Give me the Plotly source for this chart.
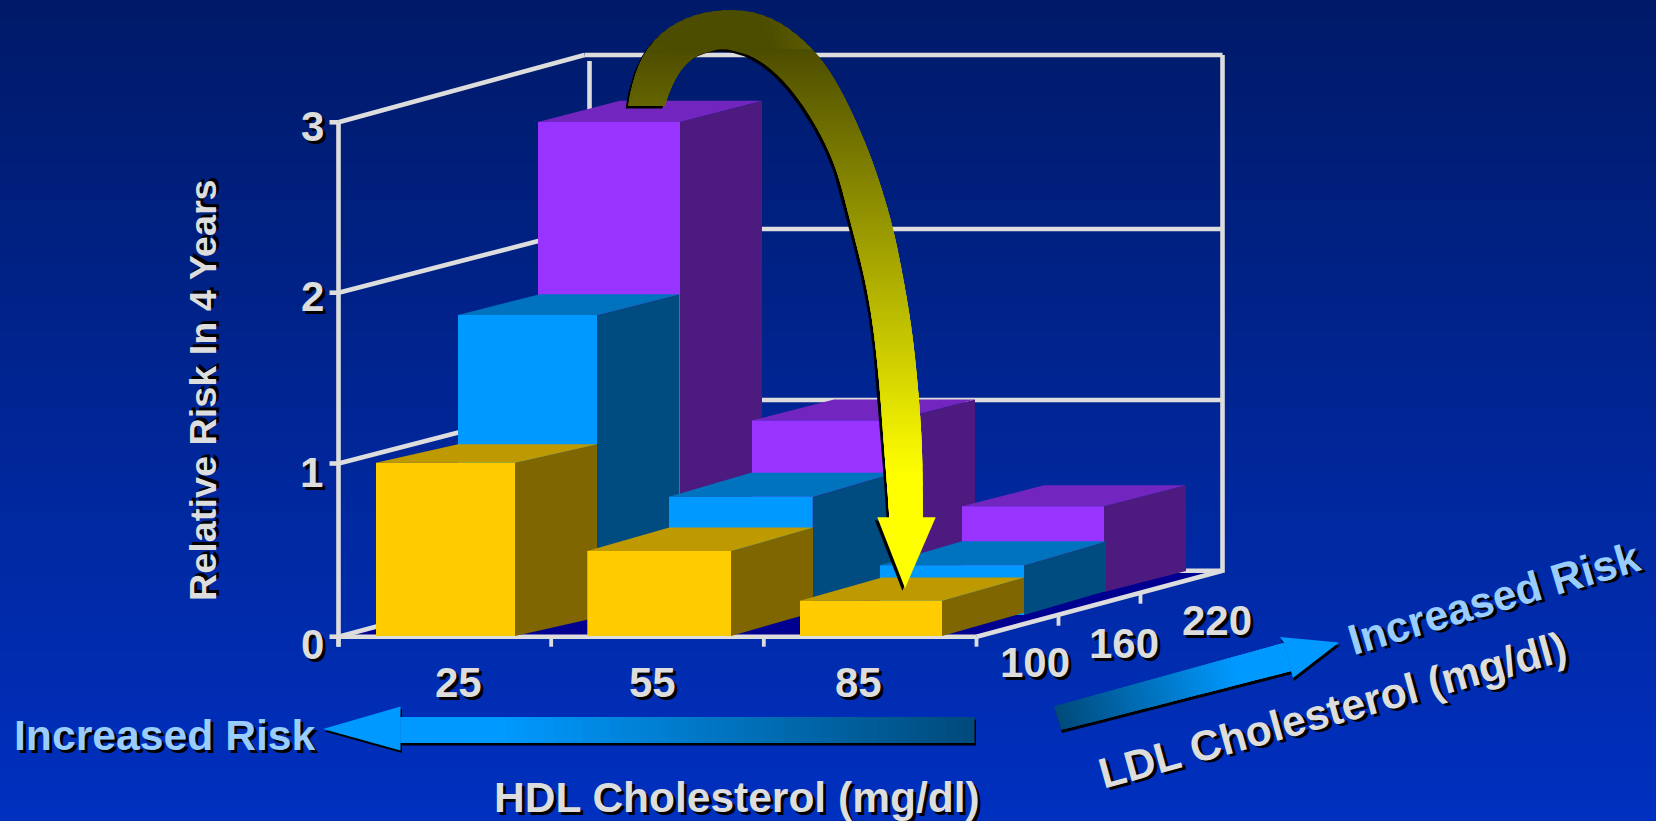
import plotly.graph_objects as go

# ---------- data ----------
hdl_labels = ["25", "55", "85"]
ldl_labels = ["100", "160", "220"]
risk_ticks = [0, 1, 2, 3]
risk_ldl100 = [1.01, 0.495, 0.205]
risk_ldl160 = [1.75, 0.69, 0.29]
risk_ldl220 = [2.74, 1.00, 0.50]
series = [risk_ldl100, risk_ldl160, risk_ldl220]

front_colors = ["#FFCC00", "#0099FF", "#9933FF"]
top_colors = ["#BF9900", "#0073BF", "#7326BF"]
side_colors = ["#806600", "#004C80", "#4D1A80"]
GRID = "#DDDDDD"
TXT = "#DDDDDD"
RISK_TXT = "#99CCFF"
FLOOR = "#000090"

W, H = 1656, 821

# ---------- oblique projection of the chart space ----------
X0, Y0 = 338.5, 636.5        # origin on the screen
UNIT = 171.5                 # pixels per unit of risk
BAR_LEFT = [[376.0, 587.3, 800.0], [458.0, 669.0, 880.0], [538.0, 752.0, 962.0]]
BAR_RIGHT = [[515.0, 731.0, 942.0], [597.0, 812.5, 1024.0], [680.0, 893.0, 1104.0]]
BAR_DEPTH_Y = [[18.5, 23.5, 23.3], [20.7, 24.0, 24.0], [21.3, 21.0, 21.0]]
BASE_Y = [636.0, 615.0, 592.0]
BAR_DEPTH_X = 82.0
FLOOR_W = 638.0
WALL_DX = 246.0
FRONT_GRID = [636.7, 463.5, 292.7, 122.3]   # how the wall's risk scale lands on the screen
BACK_GRID = [570.7, 400.0, 229.0, 55.0]
LW = 4.6


def bar_point(col, row, along, depth, z):
    left, right = BAR_LEFT[row][col], BAR_RIGHT[row][col]
    x = left + along * (right - left) + depth * BAR_DEPTH_X
    y = BASE_Y[row] - depth * BAR_DEPTH_Y[row][col] - z * UNIT
    return x, y


fig = go.Figure()

# ---------- gradient background ----------
rows = list(range(0, H + 1, 3))
fig.add_trace(go.Heatmap(
    x=[0, W], y=rows, z=[[r, r] for r in rows], zmin=0, zmax=H,
    colorscale=[[0, "rgb(0,26,104)"], [1, "rgb(0,48,192)"]],
    showscale=False, hoverinfo="skip"))


def poly(pts, color, lw=0.0):
    xs = [p[0] for p in pts] + [pts[0][0]]
    ys = [p[1] for p in pts] + [pts[0][1]]
    fig.add_trace(go.Scatter(
        x=xs, y=ys, mode="lines", fill="toself", fillcolor=color,
        line=dict(color=color, width=lw), hoverinfo="skip", showlegend=False))


def seg(a, b, w=LW, color=GRID):
    fig.add_trace(go.Scatter(
        x=[a[0], b[0]], y=[a[1], b[1]], mode="lines",
        line=dict(color=color, width=w), hoverinfo="skip", showlegend=False))


# ---------- floor and walls ----------
XF0, XF1 = X0, X0 + FLOOR_W
XB0, XB1 = X0 + WALL_DX, X0 + FLOOR_W + WALL_DX
poly([(XF0, FRONT_GRID[0]), (XF1, FRONT_GRID[0]), (XB1, BACK_GRID[0]), (XB0, BACK_GRID[0])], FLOOR)

for t in risk_ticks:
    seg((XF0, FRONT_GRID[t]), (XB0, BACK_GRID[t]))
    seg((XB0, BACK_GRID[t]), (XB1, BACK_GRID[t]))
    seg((XF0 - 9, FRONT_GRID[t]), (XF0, FRONT_GRID[t]))
seg((XF0, FRONT_GRID[0] + 10), (XF0, FRONT_GRID[3]))
seg((XB0 + 5, BACK_GRID[3] + 6), (XB0 + 5, BACK_GRID[0]))
seg((XB1, BACK_GRID[3]), (XB1, BACK_GRID[0] + 2))
seg((XF0, FRONT_GRID[0]), (XF1, FRONT_GRID[0]))
seg((XF1, FRONT_GRID[0]), (XB1, BACK_GRID[0]))
for i in range(4):
    x = XF0 + FLOOR_W * i / 3
    seg((x, FRONT_GRID[0]), (x, FRONT_GRID[0] + 10), 3.8)
for i in range(1, 3):
    x = XF1 + WALL_DX * i / 3
    y = FRONT_GRID[0] + (BACK_GRID[0] - FRONT_GRID[0]) * i / 3
    seg((x, y), (x, y + 11), 3.8)

# ---------- bars, painted back to front ----------
for row in [2, 1, 0]:
    for col, v in enumerate(series[row]):
        poly([bar_point(col, row, 1, 0, 0), bar_point(col, row, 1, 1, 0),
              bar_point(col, row, 1, 1, v), bar_point(col, row, 1, 0, v)], side_colors[row])
        poly([bar_point(col, row, 0, 0, v), bar_point(col, row, 1, 0, v),
              bar_point(col, row, 1, 1, v), bar_point(col, row, 0, 1, v)], top_colors[row])
        poly([bar_point(col, row, 0, 0, 0), bar_point(col, row, 1, 0, 0),
              bar_point(col, row, 1, 0, v), bar_point(col, row, 0, 0, v)], front_colors[row])


# ---------- gradient helpers ----------
def mix(c0, c1, t):
    t = max(0.0, min(1.0, t))
    return "rgb(%d,%d,%d)" % tuple(round(a + (b - a) * t) for a, b in zip(c0, c1))


def lerp(a, b, t):
    return a[0] + (b[0] - a[0]) * t, a[1] + (b[1] - a[1]) * t


def straight_arrow(tail_a, tail_b, neck_a, neck_b, head_a, head_b, tip, full_at, shadow, n=60):
    sh = [tail_a, neck_a, head_a, tip, head_b, neck_b, tail_b]
    poly([(p[0] + shadow[0], p[1] + shadow[1]) for p in sh], "#000000")
    dark, bright = (0, 74, 122), (0, 153, 255)
    for i in range(n):
        t0, t1 = i / n, min(1.0, (i + 3) / n)    # each slice runs under the next one
        poly([lerp(tail_a, neck_a, t0), lerp(tail_a, neck_a, t1),
              lerp(tail_b, neck_b, t1), lerp(tail_b, neck_b, t0)],
             mix(dark, bright, (i + 0.5) / n / full_at))
    poly([head_a, tip, head_b, neck_b, neck_a], "rgb(0,153,255)")


# HDL arrow, pointing left
straight_arrow((974.5, 717), (974.5, 743), (400.5, 717), (400.5, 743),
               (400.5, 706.5), (400.5, 750.5), (323, 729), 0.83, (1.5, 2.5))
# LDL arrow, pointing up and to the right
straight_arrow((1054, 706.5), (1061, 730), (1284, 643), (1291, 671),
               (1280, 637), (1293, 678), (1339, 642.5), 0.78, (1.0, 3.0))

# ---------- big curved arrow ----------
arc_outer = [(628.3, 106), (630, 90), (636.7, 65), (650, 41), (670, 24), (696.7, 12.5), (730, 8),
             (756.7, 10.7), (776.7, 18.5), (796.7, 33.3), (820, 55), (843.3, 93.3), (868, 148.3),
             (883, 192), (895, 235), (907.3, 300), (913.3, 340), (918.3, 390),
             (922.3, 446.7), (922.7, 521.7)]
arc_inner = [(665, 106), (670, 86.7), (681.7, 65), (700, 50), (726.7, 46.5), (750, 53),
             (773.3, 69), (796.7, 95), (820, 131.7), (836.7, 168.3), (852.3, 229), (863, 270),
             (870, 305), (875, 340), (880, 390), (884, 446.7), (888.3, 500), (889.5, 521.7)]
head = [(877.3, 517.3), (905, 588.3), (935.7, 517.3)]


def resample(pts, n):
    d = [0.0]
    for a, b in zip(pts, pts[1:]):
        d.append(d[-1] + ((a[0] - b[0]) ** 2 + (a[1] - b[1]) ** 2) ** 0.5)
    out, j = [], 0
    for i in range(n + 1):
        s = d[-1] * i / n
        while j < len(pts) - 2 and d[j + 1] < s:
            j += 1
        out.append(lerp(pts[j], pts[j + 1], (s - d[j]) / max(d[j + 1] - d[j], 1e-9)))
    return out


def soften(pts, reach=4, passes=2):
    # rounds off the corners of the hand-traced outline; the two ends stay where they are
    for _ in range(passes):
        out = []
        for i in range(len(pts)):
            r = min(reach, i, len(pts) - 1 - i)
            w = pts[i - r:i + r + 1]
            out.append((sum(p[0] for p in w) / len(w), sum(p[1] for p in w) / len(w)))
        pts = out
    return pts


N = 150
outer = soften(resample(arc_outer, N))
inner = soften(resample(arc_inner, N))
sil = outer + [head[2], head[1], head[0]] + inner[::-1]
poly([(p[0] - 2.6, p[1] + 2.4) for p in sil], "#000000")


def arc_color(y):
    return mix((77, 77, 0), (255, 255, 0), (y - 48) / 425)


# first a rough fill along the band ...
for i in range(0, N, 2):
    j = min(N, i + 3)
    poly([outer[i], outer[j], inner[j], inner[i]],
         arc_color((outer[i][1] + outer[j][1] + inner[i][1] + inner[j][1]) / 4))

# ... then level strips over it, so the colour only changes from top to bottom
band = outer + inner[::-1]


def crossings(y):
    xs = []
    for a, b in zip(band, band[1:] + band[:1]):
        if (a[1] - y) * (b[1] - y) < 0:
            xs.append(a[0] + (b[0] - a[0]) * (y - a[1]) / (b[1] - a[1]))
    return sorted(xs)


start = min(p[1] for p in inner) + 0.2
stops = sorted(set([start + 3.0 * k for k in range(int((521.0 - start) / 3.0) + 1)] + [105.9, 106.1, 521.0]))
for k in range(len(stops) - 1):
    y0, y1 = stops[k], stops[min(k + 2, len(stops) - 1)]
    a, b = crossings(y0), crossings(y1)
    if len(a) != len(b):
        y1 = stops[k + 1]
        b = crossings(y1)
    if len(a) != len(b):
        continue
    for m in range(0, len(a) - 1, 2):
        poly([(a[m], y0), (a[m + 1], y0), (b[m + 1], y1), (b[m], y1)], arc_color(y0))
poly([head[0], head[1], head[2]], "rgb(255,255,0)")

# ---------- text ----------
FF = "Liberation Sans, Arial, sans-serif"


def label(text, x, y, size, color=TXT, angle=0, sh=3):
    fig.add_annotation(
        x=x, y=y, xref="x", yref="y", text="<b>%s</b>" % text, showarrow=False, textangle=angle,
        xanchor="center", yanchor="middle", borderpad=0,
        font=dict(family=FF, size=size, color=color, shadow="%gpx %gpx 0px #000000" % (sh, sh)))


for t, x, y in zip(risk_ticks, [312, 311, 312, 312], [644, 472, 296, 126]):
    label(str(t), x, y, 42)
for t, x in zip(hdl_labels, [458, 652, 858]):
    label(t, x, 682, 42)
for t, x, y in zip(ldl_labels, [1035, 1124, 1217], [662, 643, 620]):
    label(t, x, y, 42)
label("Increased Risk", 164.5, 735, 42.7, RISK_TXT)
label("HDL Cholesterol (mg/dl)", 737, 797, 42.5)
label("Relative Risk In 4 Years", 203, 390, 37.8, angle=-90)
label("LDL Cholesterol (mg/dl)", 1332, 710, 42.7, angle=-15.5)
label("Increased Risk", 1494, 598, 42.7, RISK_TXT, angle=-16.5)

fig.update_layout(
    width=W, height=H, margin=dict(l=0, r=0, t=0, b=0), showlegend=False,
    paper_bgcolor="#0028A0", plot_bgcolor="#0028A0",
    xaxis=dict(range=[0, W], visible=False, fixedrange=True),
    yaxis=dict(range=[H, 0], visible=False, fixedrange=True))

fig.write_html("out.html", config={"displayModeBar": False},
               post_script="document.body.style.margin='0';document.body.style.overflow='hidden';")
